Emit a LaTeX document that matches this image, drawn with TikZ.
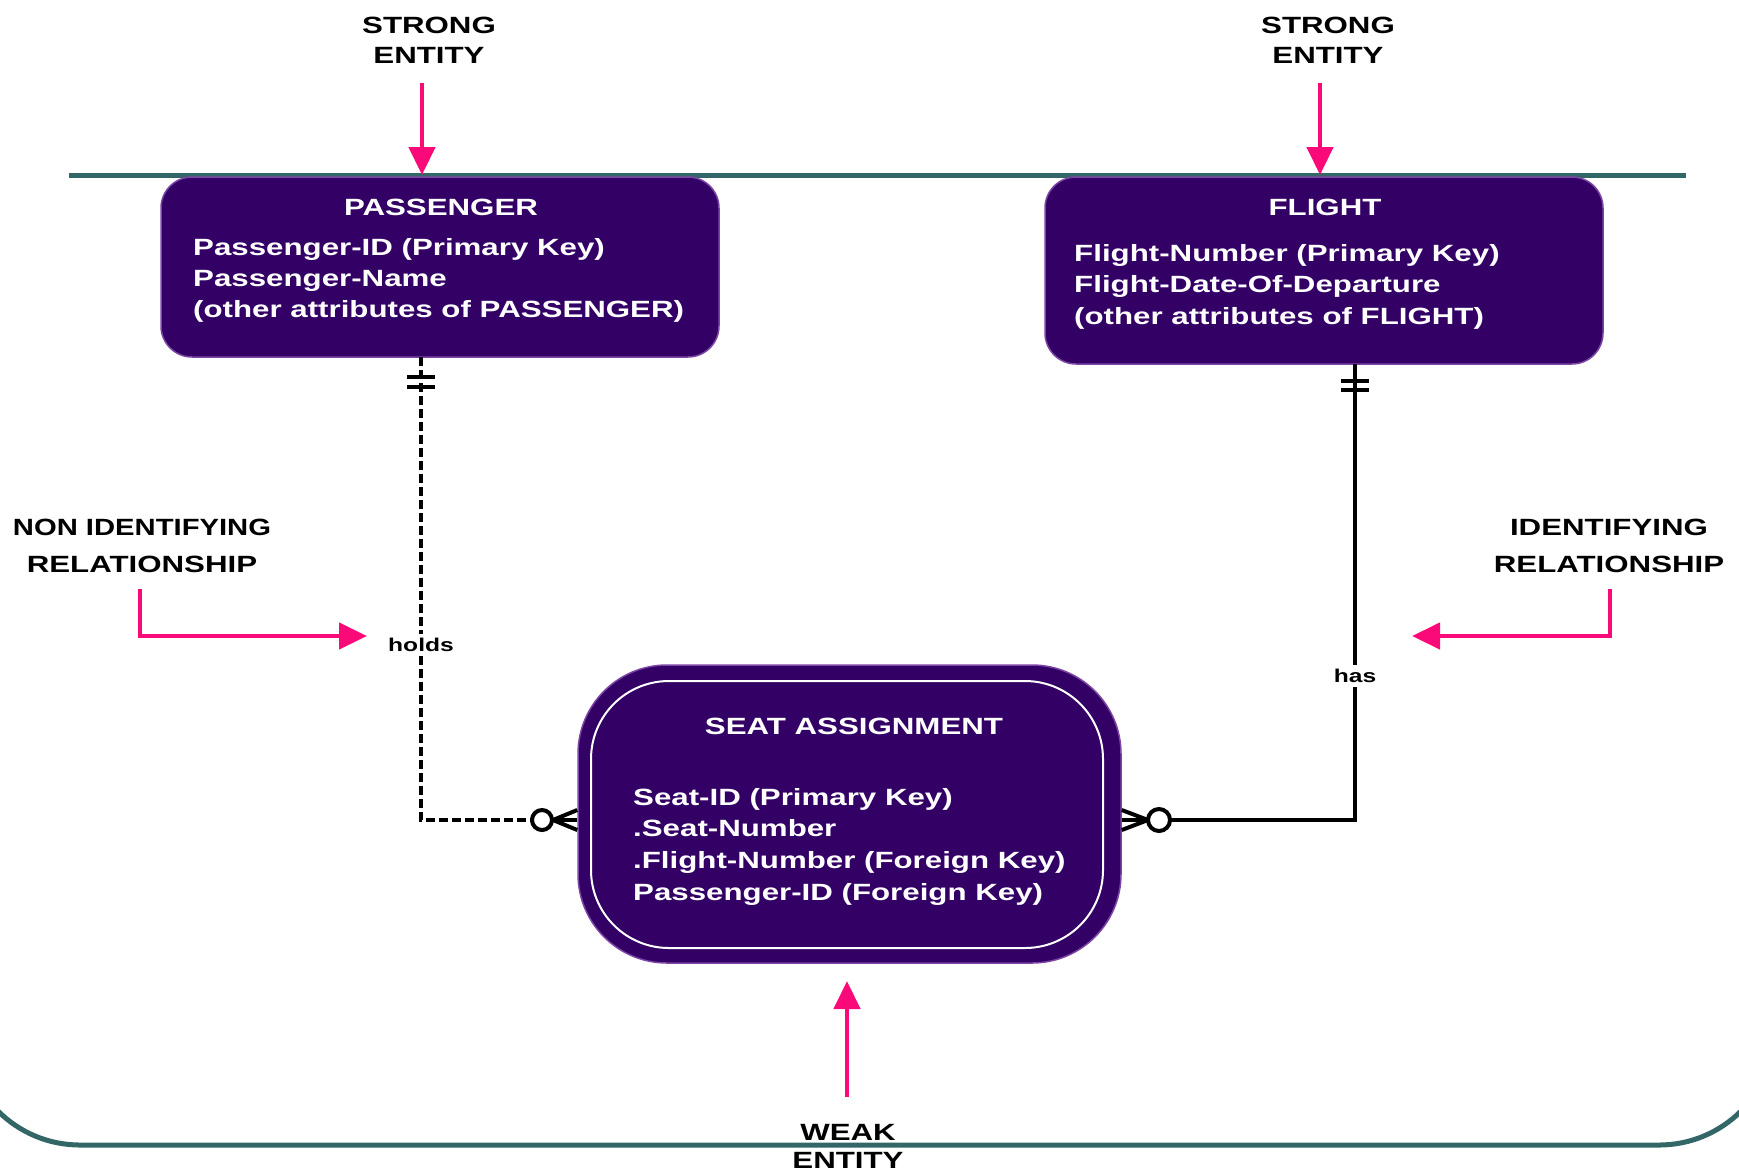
\documentclass[tikz,border=0pt]{standalone}
\usepackage{fontspec}
\setmainfont{Liberation Sans}[FakeStretch=1.33]
\usetikzlibrary{arrows.meta}

\definecolor{boxfill}{RGB}{51,0,102}
\definecolor{boxedge}{RGB}{125,70,165}
\definecolor{railteal}{RGB}{51,102,102}
\definecolor{cuepink}{RGB}{250,10,120}

\begin{document}
\begin{tikzpicture}[x=1pt,y=-1pt,
  entity/.style={draw=boxedge, line width=1.5pt, fill=boxfill, rounded corners=31pt,
                 inner sep=0pt, minimum width=558pt},
  head/.style={font=\bfseries\fontsize{23.5}{31}\selectfont, text=white, inner sep=0pt, anchor=base},
  attr/.style={font=\bfseries\fontsize{23.5}{31}\selectfont, text=white, inner sep=0pt, anchor=base west},
  tag/.style={font=\bfseries\fontsize{23.5}{31}\selectfont, text=black, inner sep=0pt, anchor=base},
  rellabel/.style={font=\bfseries\fontsize{18.5}{22}\selectfont, fill=white, inner sep=4pt},
  rel/.style={draw=black, line width=4.5pt},
  foot/.style={draw=black, line width=4pt},
  cue/.style={draw=cuepink, line width=4.5pt, -{Triangle[length=28pt,width=26pt]}},
  rail/.style={draw=railteal, line width=5pt}
]
\useasboundingbox (0,0) rectangle (1739,1171);

% rails
\draw[rail] (69,175) -- (1686,175);
\draw[rail, rounded corners=116pt] (-36,900) -- (-36,1145) -- (1775,1145) -- (1775,900);

% entities
\node[entity, minimum height=180pt] (pass) at (440,267) {};
\node[entity, minimum height=187pt] (flight) at (1324,270.5) {};
\node[entity, rounded corners=89pt, minimum width=543pt, minimum height=298pt] (seat) at (849.5,814) {};
\node[draw=white, line width=2pt, rounded corners=78pt, inner sep=0pt,
      minimum width=512pt, minimum height=267pt] (seatin) at (847,814.5) {};

% passenger text
\node[head] (passhead) at (441,215) {PASSENGER};
\node[attr] (pa1) at (193,255) {Passenger-ID (Primary Key)};
\node[attr] (pa2) at (193,286) {Passenger-Name};
\node[attr] (pa3) at (193,317) {(other attributes of PASSENGER)};

% flight text
\node[head] (flighthead) at (1325,215) {FLIGHT};
\node[attr] (fa1) at (1074,261) {Flight-Number (Primary Key)};
\node[attr] (fa2) at (1074,292) {Flight-Date-Of-Departure};
\node[attr] (fa3) at (1074,324) {(other attributes of FLIGHT)};

% seat assignment text
\node[head] (seathead) at (854,734) {SEAT ASSIGNMENT};
\node[attr] (sa1) at (633,805) {Seat-ID (Primary Key)};
\node[attr] (sa2) at (633,836) {.Seat-Number};
\node[attr] (sa3) at (633,868) {.Flight-Number (Foreign Key)};
\node[attr] (sa4) at (633,900) {Passenger-ID (Foreign Key)};

% relationship endpoints
\coordinate (holdsTop) at (421,357);
\coordinate (holdsEnd) at (553,820);
\coordinate (hasTop) at (1355,364);
\coordinate (hasEnd) at (1143,820);

% nonidentifying relationship (dashed)
\draw[rel, dash pattern=on 9pt off 4pt] (holdsTop) -- (holdsTop |- holdsEnd) -- (holdsEnd);
\node[rellabel] (holds) at (421,645) {holds};
\draw[foot] (407,377) -- (435,377);
\draw[foot] (407,387) -- (435,387);
\draw[foot] (holdsEnd) -- (seat.west |- 0,810);
\draw[foot] (holdsEnd) -- (seat.west |- 0,820);
\draw[foot] (holdsEnd) -- (seat.west |- 0,830);
\draw[foot, fill=white] (542,820) circle[radius=10pt];

% identifying relationship (solid)
\draw[rel] (hasTop) -- (hasTop |- hasEnd) -- (hasEnd);
\node[rellabel] (has) at (1355,676) {has};
\draw[foot] (1341,381) -- (1369,381);
\draw[foot] (1341,390) -- (1369,390);
\draw[foot] (1148,820) -- (seat.east |- 0,810);
\draw[foot] (1148,820) -- (seat.east |- 0,820);
\draw[foot] (1148,820) -- (seat.east |- 0,830);
\draw[foot, fill=white] (1159,820) circle[radius=11pt];

% annotations
\node[tag] (strongL1) at (429,33) {STRONG};
\node[tag] (strongL2) at (429,63) {ENTITY};
\node[tag] (strongR1) at (1328,33) {STRONG};
\node[tag] (strongR2) at (1328,63) {ENTITY};
\node[tag] (nonid1) at (142,535) {\scalebox{0.935}[1]{NON IDENTIFYING}};
\node[tag] (nonid2) at (142,572) {RELATIONSHIP};
\node[tag] (ident1) at (1609,535) {IDENTIFYING};
\node[tag] (ident2) at (1609,572) {RELATIONSHIP};
\node[tag] (weak1) at (848,1140) {WEAK};
\node[tag] (weak2) at (848,1168) {ENTITY};

% pointers
\draw[cue] (422,83) -- (422,175);
\draw[cue] (1320,83) -- (1320,175);
\draw[cue] (140,589) -- (140,636) -- (367,636);
\draw[cue] (1610,589) -- (1610,636) -- (1412,636);
\draw[cue] (847,1097) -- (847,981);
\end{tikzpicture}
\end{document}
